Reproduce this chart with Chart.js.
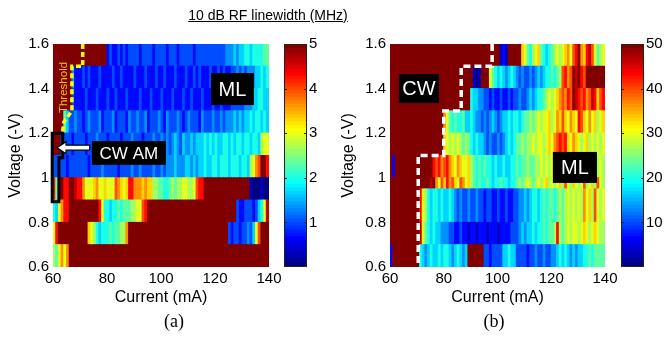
<!DOCTYPE html>
<html>
<head>
<meta charset="utf-8">
<script src="https://cdn.jsdelivr.net/npm/chart.js@4.4.0/dist/chart.umd.min.js"></script>
<style>
  html, body { margin: 0; padding: 0; background: #fff; }
  #wrap { position: relative; width: 666px; height: 337px; overflow: hidden; font-family: 'Liberation Sans', Arial, sans-serif; }
  #wrap canvas { position: absolute; left: 0; top: 0; }
  #title { position: absolute; left: 68px; width: 400px; top: 7px; text-align: center; font-size: 14px; line-height: 17px; text-decoration: underline; }
  .panel { position: absolute; top: 310px; width: 60px; text-align: center; font-family: 'Liberation Serif', 'Times New Roman', serif; font-size: 18px; line-height: 22px; }
</style>
</head>
<body>
<div id="wrap">
  <canvas id="heatA" width="666" height="337"></canvas>
  <canvas id="barA" width="666" height="337"></canvas>
  <canvas id="heatB" width="666" height="337"></canvas>
  <canvas id="barB" width="666" height="337"></canvas>
  <div id="title">10 dB RF linewidth (MHz)</div>
  <div class="panel" style="left:144px">(a)</div>
  <div class="panel" style="left:464px">(b)</div>
</div>
<script>
// Current axis: one cell per mA, 60..139 mA
const CURRENT_START = 60, CURRENT_STEP = 1;
const currentTicks = [60, 80, 100, 120, 140];
const voltageTicks = [0.6, 0.8, 1, 1.2, 1.4, 1.6];

// Voltage row edges (bottom to top)
const voltEdgesA = [0.6, 0.7, 0.8, 0.9, 1.0, 1.1, 1.2, 1.3, 1.4, 1.5, 1.6];
const voltEdgesB = [0.6, 0.7, 0.8, 0.95, 1.0, 1.1, 1.2, 1.3, 1.4, 1.5, 1.6];

// Linewidth per row, one hex digit per mA: value = digit / 15 * full scale
// (a) full scale 5 MHz, rows from 0.6 V up to 1.6 V
const linewidthA = [
  '879b9bffff ffffffffff ffffffffff ffffffffff ffffffffff ffffffffff ffffffffff ffffffffff',
  '9dffffffff fffa986566 6767788bff ffffffffff ffffffffff ffffffffff fffff32332 334359cfff',
  '659bddffff fffffffd96 6566767778 899cdfffff ffffffffff ffffffffff ffffffff32 233323569e',
  'd7efddffed db999ab99a 999cba9add bbbabaa887 7667878899 889cddffff ffffffffff fff1000100',
  '3333323333 3332333343 3333233334 3343333433 4344454445 5454556556 6566656665 66589bcffd',
  'fff3333233 3323334333 2333323334 3332333433 4343454354 4545556565 6556656566 5665665899',
  'ffff753343 3234333423 3342333243 3433423334 3243334323 4333243334 3343444545 4556566565',
  'fffffff322 2232223222 3223222322 2232223222 3222322232 2322232223 2232223333 3444556655',
  'fffffff422 2323222322 2232232222 3222322232 2322232223 2232322232 2323223343 4344455656',
  'ffffffffff ffffffffff 2322323233 3323333233 3323332333 3323333333 3333444545 5665666677'
];
// (b) full scale 50 MHz
const linewidthB = [
  '2fffffffff f654565565 665456545f fffff33233 3355655333 3233433433 4456565454 5566767777',
  'ffffffffff fe97656554 4433223221 2212221222 1222233345 4556566767 78d8789899 89a989a988',
  'ffffffffff fd98656656 5565434334 3343323322 3223223344 5456656767 7678789898 98b9a8c989',
  'ffffffffff fffffefb9c adbca9cb9a 8767667656 6766566787 89878989a8 989a8c98a9 89c89a8c98',
  'f2ffffffff ffffffdcdb cdba9ba99a 8767676656 5565566767 7877889898 998a987898 7898789898',
  'ffffffffff ffffffffff a989898787 6565543433 4345656778 788989989a 9bcdcda9ba 989a898989',
  'ffffffffff ffffffffff b976766755 6544343454 3455656656 778789899a 89baca9ba9 dca9b9a89a',
  'ffffffffff ffffffffff ffffffffff 6554433232 2322323343 3454566789 89abcbdcfe dcdbcedacd',
  'ffffffffff ffffffffff ffffffffff f101fff976 5654565434 3343454566 7678cdbcfe fdcfffffff',
  'ffffffffff ffffffffff ffffffffff ffffffffff f121fffffa 97689a7656 78989ab9cd fbadec9789'
];
const scaleMaxA = 5, scaleMaxB = 50;
const barTicksA = [1, 2, 3, 4, 5];
const barTicksB = [10, 20, 30, 40, 50];

// Annotations (current mA, voltage V)
const thresholdA = [[71, 1.6], [71, 1.5], [67, 1.5], [67, 1.3], [64, 1.25], [63.5, 1.2]];
const thresholdB = [[98, 1.6], [98, 1.5], [86.5, 1.5], [86.5, 1.3], [80, 1.3], [80, 1.1], [70.5, 1.1], [70.5, 0.6]];
const bracketA = [[59.7, 1.2], [63.6, 1.2], [63.6, 1.09], [62.2, 1.09], [62.2, 0.893], [59.7, 0.893]];

const FONT = "'Liberation Sans', Arial, sans-serif";

function jet(t) {
  t = Math.max(0, Math.min(1, t));
  const c = v => Math.round(255 * Math.max(0, Math.min(1, v)));
  return `rgb(${c(1.5 - Math.abs(4 * t - 3))},${c(1.5 - Math.abs(4 * t - 2))},${c(1.5 - Math.abs(4 * t - 1))})`;
}

const decode = s => s.replace(/ /g, '').split('').map(ch => parseInt(ch, 16));

function heatSets(rows, edges, vmax) {
  return rows.map((row, r) => {
    const vals = decode(row).map(k => k * vmax / 15);
    return {
      data: vals.map((v, i) => ({ x: CURRENT_START + (i + 0.5) * CURRENT_STEP, y: [edges[r], edges[r + 1]] })),
      backgroundColor: vals.map(v => jet(v / vmax)),
      borderWidth: 0,
      inflateAmount: 0.5,
      grouped: false,
      barPercentage: 1,
      categoryPercentage: 1
    };
  });
}

const annotate = {
  id: 'annotate',
  afterDatasetsDraw(chart, args, o) {
    const { ctx } = chart;
    const X = c => chart.scales.x.getPixelForValue(c);
    const Y = v => chart.scales.y.getPixelForValue(v);
    ctx.save();
    if (o.bracket) {
      ctx.beginPath();
      o.bracket.forEach(([c, v], i) => i ? ctx.lineTo(X(c), Y(v)) : ctx.moveTo(X(c), Y(v)));
      ctx.closePath();
      ctx.strokeStyle = '#000'; ctx.lineWidth = 3; ctx.stroke();
    }
    if (o.threshold) {
      ctx.beginPath();
      o.threshold.forEach(([c, v], i) => i ? ctx.lineTo(X(c), Y(v)) : ctx.moveTo(X(c), Y(v)));
      ctx.strokeStyle = o.thresholdColor; ctx.lineWidth = 3.5;
      ctx.setLineDash(o.dash); ctx.stroke(); ctx.setLineDash([]);
    }
    if (o.rotText) {
      const t = o.rotText;
      ctx.save();
      ctx.translate(X(t.c), Y(t.v)); ctx.rotate(-Math.PI / 2);
      ctx.fillStyle = t.color; ctx.font = t.font;
      ctx.textAlign = 'center'; ctx.textBaseline = 'middle';
      ctx.fillText(t.text, 0, 0);
      ctx.restore();
    }
    if (o.arrow) {
      const a = o.arrow, tx = X(a.tip), ex = X(a.tail), y = Y(a.v);
      ctx.beginPath();
      ctx.moveTo(tx, y); ctx.lineTo(tx + 9, y - 6); ctx.lineTo(tx + 9, y - 2.5);
      ctx.lineTo(ex, y - 2.5); ctx.lineTo(ex, y + 2.5); ctx.lineTo(tx + 9, y + 2.5);
      ctx.lineTo(tx + 9, y + 6); ctx.closePath();
      ctx.fillStyle = '#fff'; ctx.fill();
      ctx.strokeStyle = '#000'; ctx.lineWidth = 1.2; ctx.stroke();
    }
    (o.boxes || []).forEach(b => {
      const x1 = X(b.c1), x2 = X(b.c2), y1 = Y(b.v2), y2 = Y(b.v1);
      ctx.fillStyle = '#000';
      ctx.fillRect(x1, y1, x2 - x1, y2 - y1);
      ctx.fillStyle = '#fff'; ctx.font = b.font;
      ctx.textAlign = 'center'; ctx.textBaseline = 'middle';
      ctx.fillText(b.text, (x1 + x2) / 2, (y1 + y2) / 2 + 1);
    });
    ctx.restore();
  }
};

const barFrame = {
  id: 'barFrame',
  afterDatasetsDraw(chart, args, o) {
    const { ctx, chartArea: a } = chart;
    const sy = chart.scales.y;
    ctx.save();
    ctx.strokeStyle = '#222'; ctx.lineWidth = 1;
    ctx.strokeRect(a.left + 0.5, a.top + 0.5, a.right - a.left - 1, a.bottom - a.top - 1);
    o.ticks.forEach(t => {
      const y = Math.round(sy.getPixelForValue(t)) + 0.5;
      ctx.beginPath();
      ctx.moveTo(a.left, y); ctx.lineTo(a.left + 3, y);
      ctx.moveTo(a.right - 3, y); ctx.lineTo(a.right, y);
      ctx.stroke();
    });
    ctx.restore();
  }
};

function heatChart(id, rows, edges, vmax, pad, yWidth, annot) {
  const tickFont = { family: FONT, size: 15 };
  const titleFont = { family: FONT, size: 16 };
  return new Chart(document.getElementById(id), {
    type: 'bar',
    data: { datasets: heatSets(rows, edges, vmax) },
    plugins: [annotate],
    options: {
      responsive: false, animation: false, events: [],
      layout: { padding: pad },
      plugins: { legend: { display: false }, tooltip: { enabled: false }, annotate: annot },
      scales: {
        x: {
          type: 'linear', min: 60, max: 140, offset: false,
          grid: { display: false, drawTicks: false }, border: { display: false },
          afterBuildTicks: s => { s.ticks = currentTicks.map(v => ({ value: v })); },
          ticks: { padding: 3, color: '#000', font: tickFont, maxRotation: 0, autoSkip: false },
          title: { display: true, text: 'Current (mA)', color: '#000', font: titleFont, padding: 0 },
          afterFit: s => { s.height = 40; }
        },
        y: {
          type: 'linear', min: 0.6, max: 1.6,
          grid: { display: false, drawTicks: false }, border: { display: false },
          afterBuildTicks: s => { s.ticks = voltageTicks.map(v => ({ value: v })); },
          ticks: { padding: 4, color: '#000', font: tickFont, callback: v => String(+v.toFixed(1)) },
          title: { display: true, text: 'Voltage (-V)', color: '#000', font: titleFont, padding: 0 },
          afterFit: s => { s.width = yWidth; }
        }
      }
    }
  });
}

function colorBar(id, vmax, ticks, pad, yWidth) {
  const n = 64;
  const stripes = [], colors = [];
  for (let k = 0; k < n; k++) {
    stripes.push({ y: (k + 0.5) * vmax / n, x: [0, 1] });
    colors.push(jet(k / (n - 1)));
  }
  return new Chart(document.getElementById(id), {
    type: 'bar',
    data: { datasets: [{ data: stripes, backgroundColor: colors, borderWidth: 0, inflateAmount: 0.5, barPercentage: 1, categoryPercentage: 1 }] },
    plugins: [barFrame],
    options: {
      indexAxis: 'y',
      responsive: false, animation: false, events: [],
      layout: { padding: pad },
      plugins: { legend: { display: false }, tooltip: { enabled: false }, barFrame: { ticks } },
      scales: {
        x: { type: 'linear', min: 0, max: 1, display: false },
        y: {
          type: 'linear', position: 'right', min: 0, max: vmax, offset: false,
          grid: { display: false, drawTicks: false }, border: { display: false },
          afterBuildTicks: s => { s.ticks = ticks.map(v => ({ value: v })); },
          ticks: { padding: 2, color: '#000', font: { family: FONT, size: 15 } },
          afterFit: s => { s.width = yWidth; }
        }
      }
    }
  });
}

heatChart('heatA', linewidthA, voltEdgesA, scaleMaxA, { left: 6, right: 397, top: 44, bottom: 30 }, 47, {
  threshold: thresholdA, thresholdColor: '#ffff00', dash: [5, 3],
  bracket: bracketA,
  rotText: { text: 'Threshold', c: 63.9, v: 1.405, color: '#e6c200', font: `11.5px ${FONT}` },
  arrow: { tip: 61.5, tail: 73.6, v: 1.135 },
  boxes: [
    { text: 'ML', c1: 118.5, c2: 134.4, v1: 1.326, v2: 1.47, font: `20px ${FONT}` },
    { text: 'CW AM', c1: 74.4, c2: 101.8, v1: 1.058, v2: 1.165, font: `17px ${FONT}` }
  ]
});
colorBar('barA', scaleMaxA, barTicksA, { left: 284, right: 329, top: 44, bottom: 70 }, 30);

heatChart('heatB', linewidthB, voltEdgesB, scaleMaxB, { left: 339, right: 61, top: 44, bottom: 30 }, 51, {
  threshold: thresholdB, thresholdColor: '#ffffff', dash: [7, 4],
  boxes: [
    { text: 'CW', c1: 63.3, c2: 78.2, v1: 1.335, v2: 1.465, font: `20px ${FONT}` },
    { text: 'ML', c1: 120.6, c2: 137, v1: 0.977, v2: 1.116, font: `20px ${FONT}` }
  ]
});
colorBar('barB', scaleMaxB, barTicksB, { left: 621, right: 0, top: 44, bottom: 70 }, 22);
</script>
</body>
</html>
